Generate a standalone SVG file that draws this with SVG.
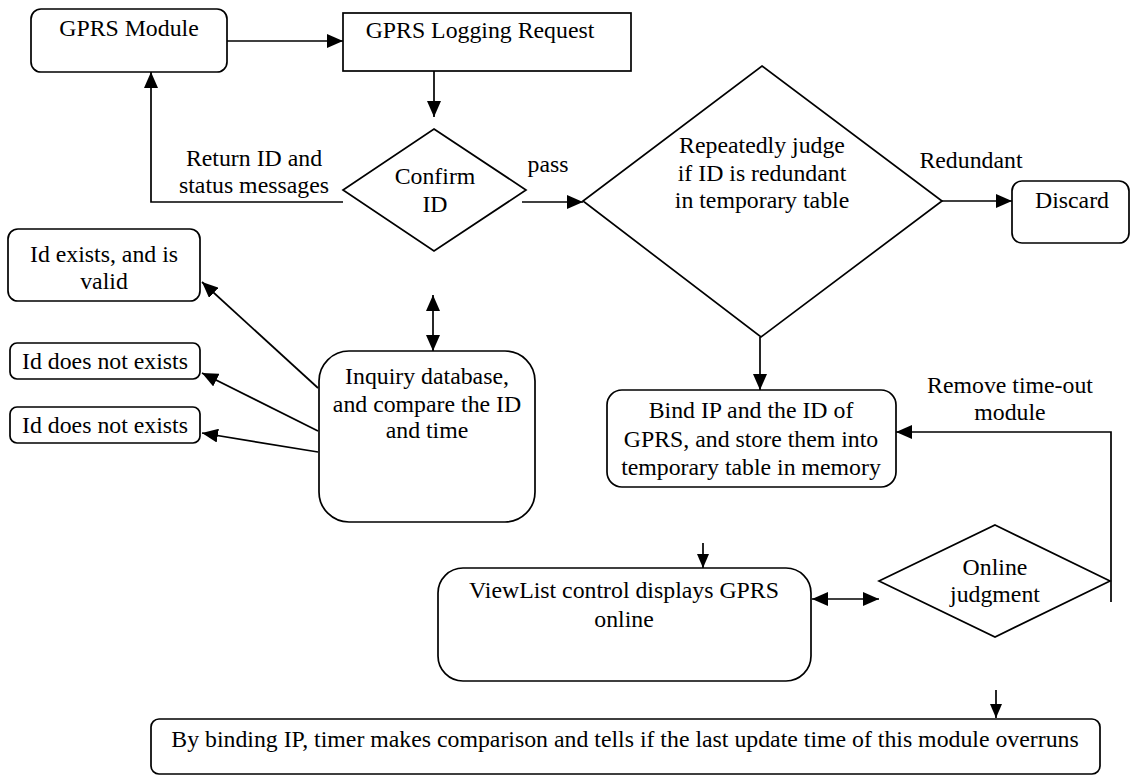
<svg xmlns="http://www.w3.org/2000/svg" width="1131" height="776" viewBox="0 0 1131 776">
  <style>
    .box { fill: #fff; stroke: #000; stroke-width: 1.7; }
    .lbl { font-family: "Liberation Serif", "Noto Serif", "Nimbus Roman", "FreeSerif", "DejaVu Serif", Times, serif; font-size: 23.8px; fill: #000; text-anchor: middle; }
    .edge { fill: none; stroke: #000; stroke-width: 1.7; }
    .arr { marker-end: url(#ah); }
    .arr2 { marker-start: url(#ah); marker-end: url(#ah); }
    .arrs { marker-end: url(#ahs); }
  </style>
  <defs>
    <marker id="ah" viewBox="0 0 16 14" refX="16" refY="7" markerWidth="16" markerHeight="14" markerUnits="userSpaceOnUse" orient="auto-start-reverse">
      <path d="M0,0 L16,7 L0,14 z" fill="#000"/>
    </marker>
    <marker id="ahs" viewBox="0 0 14 12" refX="14" refY="6" markerWidth="14" markerHeight="12" markerUnits="userSpaceOnUse" orient="auto">
      <path d="M0,0 L14,6 L0,12 z" fill="#000"/>
    </marker>
  </defs>
  <rect width="1131" height="776" fill="#fff"/>

  <!-- connectors and their labels -->
  <g id="connectors">
    <line class="edge arr" x1="227" y1="41" x2="343" y2="41"/>
    <line class="edge arr" x1="434" y1="71" x2="434" y2="117"/>
    <polyline class="edge arr" points="343,202 151,202 151,72"/>
    <line class="edge arr" x1="522" y1="202" x2="583" y2="202"/>
    <line class="edge arr" x1="942" y1="201" x2="1012" y2="201"/>
    <line class="edge arr2" x1="433" y1="295" x2="433" y2="351"/>
    <line class="edge arr" x1="318" y1="388" x2="202" y2="282"/>
    <line class="edge arr" x1="318" y1="431" x2="202" y2="373"/>
    <line class="edge arr" x1="318" y1="452" x2="202" y2="433"/>
    <line class="edge arr" x1="760" y1="337" x2="760" y2="390"/>
    <polyline class="edge arr" points="1111,602 1111,432 896,432"/>
    <line class="edge arr2" x1="812" y1="599" x2="879" y2="599"/>
    <line class="edge arrs" x1="703" y1="543" x2="703" y2="568"/>
    <line class="edge arrs" x1="996" y1="690" x2="996" y2="718"/>
    <text class="lbl" x="254" y="166">Return ID and</text>
    <text class="lbl" x="254" y="193">status messages</text>
    <text class="lbl" x="548" y="172">pass</text>
    <text class="lbl" x="971" y="168">Redundant</text>
    <text class="lbl" x="1010" y="393">Remove time-out</text>
    <text class="lbl" x="1010" y="420">module</text>
  </g>

  <g id="gprs-module">
    <rect class="box" x="31" y="9" width="196" height="63" rx="10"/>
    <text class="lbl" x="129" y="36">GPRS Module</text>
  </g>

  <g id="logging-request">
    <rect class="box" x="343" y="13" width="288" height="58"/>
    <text class="lbl" x="480" y="38">GPRS Logging Request</text>
  </g>

  <g id="confirm-id">
    <polygon class="box" points="434,129 526,190 434,251 343,190"/>
    <text class="lbl" x="435" y="184">Confirm</text>
    <text class="lbl" x="435" y="212">ID</text>
  </g>

  <g id="redundancy-check">
    <polygon class="box" points="762,66 942,201 761,337 583,201"/>
    <text class="lbl" x="762" y="153">Repeatedly judge</text>
    <text class="lbl" x="762" y="181">if ID is redundant</text>
    <text class="lbl" x="762" y="208">in temporary table</text>
  </g>

  <g id="discard">
    <rect class="box" x="1012" y="181" width="117" height="62" rx="10"/>
    <text class="lbl" x="1072" y="208">Discard</text>
  </g>

  <g id="id-valid">
    <rect class="box" x="8" y="229" width="192" height="72" rx="10"/>
    <text class="lbl" x="104" y="262">Id exists, and is</text>
    <text class="lbl" x="104" y="289">valid</text>
  </g>

  <g id="id-missing-1">
    <rect class="box" x="10" y="343" width="190" height="36" rx="7"/>
    <text class="lbl" x="105" y="369">Id does not exists</text>
  </g>

  <g id="id-missing-2">
    <rect class="box" x="10" y="407" width="190" height="36" rx="7"/>
    <text class="lbl" x="105" y="433">Id does not exists</text>
  </g>

  <g id="inquiry-db">
    <rect class="box" x="319" y="351" width="216" height="171" rx="30"/>
    <text class="lbl" x="427" y="384">Inquiry database,</text>
    <text class="lbl" x="427" y="412">and compare the ID</text>
    <text class="lbl" x="427" y="438">and time</text>
  </g>

  <g id="bind-ip">
    <rect class="box" x="607" y="390" width="289" height="97" rx="15"/>
    <text class="lbl" x="751" y="418">Bind IP and the ID of</text>
    <text class="lbl" x="751" y="447">GPRS, and store them into</text>
    <text class="lbl" x="751" y="475">temporary table in memory</text>
  </g>

  <g id="online-judgment">
    <polygon class="box" points="995,525 1110,581 995,637 879,581"/>
    <text class="lbl" x="995" y="575">Online</text>
    <text class="lbl" x="995" y="602">judgment</text>
  </g>

  <g id="viewlist">
    <rect class="box" x="438" y="568" width="373" height="113" rx="25"/>
    <text class="lbl" x="624" y="598">ViewList control displays GPRS</text>
    <text class="lbl" x="624" y="627">online</text>
  </g>

  <g id="timer-check">
    <rect class="box" x="151" y="719" width="949" height="55" rx="8"/>
    <text class="lbl" x="625" y="747">By binding IP, timer makes comparison and tells if the last update time of this module overruns</text>
  </g>
</svg>
